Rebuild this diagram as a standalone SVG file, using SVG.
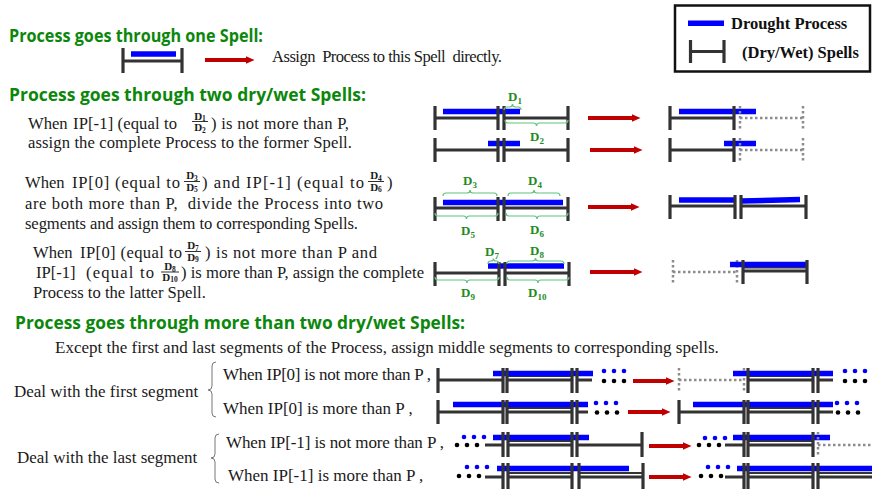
<svg xmlns="http://www.w3.org/2000/svg" width="872" height="492" viewBox="0 0 872 492">
<defs>
  <marker id="ah" markerUnits="userSpaceOnUse" markerWidth="10" markerHeight="10" refX="0.5" refY="4" orient="auto">
    <path d="M0,0 L9,4 L0,8 Z" fill="#c00000"/>
  </marker>
</defs>
<style>
  .h{font-family:"Open Sans","Noto Sans",sans-serif;font-weight:bold;font-size:17px;fill:#0b870b}
  .t{font-family:"Liberation Serif","Times New Roman",serif;font-size:16.6px;fill:#1a1a1a}
  .t3{font-family:"Liberation Serif","Times New Roman",serif;font-size:17px;fill:#1a1a1a}
  .lg{font-family:"Liberation Serif","Times New Roman",serif;font-weight:bold;font-size:16.5px;fill:#111}
  .ln{stroke:#333;stroke-width:3;fill:none}
  .ln2{stroke:#333;stroke-width:2;fill:none}
  .tk{stroke:#333;stroke-width:3.2}
  .pr{stroke:#0000ff;stroke-width:5.5}
  .ar{stroke:#c00000;stroke-width:4;marker-end:url(#ah)}
  .dt{stroke:#8c8c8c;stroke-width:2.5;stroke-dasharray:2.5 2.5;fill:none}
  .br{stroke:#5cc47a;stroke-width:1.2;fill:none}
  .cb{stroke:#777;stroke-width:1;fill:none}
  .lb{font-family:"Liberation Serif","Times New Roman",serif;font-weight:bold;font-size:13px;fill:#1e8c1e}
  .sb{font-size:9px}
  .fr{font-family:"Liberation Serif","Times New Roman",serif;font-weight:bold;font-size:11px;fill:#1a1a1a;text-anchor:middle}
  .fs{font-size:7.5px}
  .fl{stroke:#1a1a1a;stroke-width:0.9}
  .bd{fill:#0000ff}
  .kd{fill:#000}
</style>
<rect width="872" height="492" fill="#fff"/>

<!-- legend -->
<g id="legend">
  <rect x="675" y="5.5" width="195" height="66" fill="none" stroke="#111" stroke-width="2.5"/>
  <line class="pr" x1="688" y1="23.3" x2="724" y2="23.3"/>
  <text class="lg" x="731" y="28.5">Drought Process</text>
  <line class="ln" x1="690.5" y1="51.5" x2="724" y2="51.5"/>
  <line class="tk" x1="690.5" y1="40" x2="690.5" y2="63"/>
  <line class="tk" x1="724" y1="40" x2="724" y2="63"/>
  <text class="lg" x="742" y="58">(Dry/Wet) Spells</text>
</g>

<!-- case: one spell -->
<g id="one-spell">
  <text class="h" x="9" y="42" textLength="254" lengthAdjust="spacingAndGlyphs">Process goes through one Spell:</text>
  <line class="ln" x1="123" y1="61" x2="182" y2="61"/>
  <line class="pr" x1="131" y1="54" x2="176" y2="54"/>
  <line class="tk" x1="123" y1="48" x2="123" y2="73"/>
  <line class="tk" x1="182" y1="48" x2="182" y2="73"/>
  <line class="ar" x1="205" y1="60" x2="246" y2="60"/>
  <text class="t" x="272" y="62" font-size="15.5" textLength="230">Assign&#160; Process to this Spell&#160; directly.</text>
</g>

<!-- case: two spells -->
<g id="two-spells">
  <text class="h" x="9" y="101" textLength="357" lengthAdjust="spacingAndGlyphs">Process goes through two dry/wet Spells:</text>

  <!-- rule 1 text -->
  <text class="t" x="28" y="129">When</text>
  <text class="t" x="73" y="129" textLength="104">IP[-1] (equal to</text>
  <text class="fr" x="200" y="119.5">D<tspan class="fs" dy="1.5">1</tspan></text>
  <line class="fl" x1="192" y1="121.5" x2="208" y2="121.5"/>
  <text class="fr" x="200" y="131">D<tspan class="fs" dy="1.5">2</tspan></text>
  <text class="t" x="211" y="129" textLength="138">) is not more than P,</text>
  <text class="t" x="28" y="148" textLength="324">assign the complete Process to the former Spell.</text>

  <!-- rule 2 text -->
  <text class="t" x="25" y="188">When</text>
  <text class="t" x="72" y="188" textLength="108">IP[0] (equal to</text>
  <text class="fr" x="192" y="179">D<tspan class="fs" dy="1.5">3</tspan></text>
  <line class="fl" x1="184" y1="181.5" x2="200" y2="181.5"/>
  <text class="fr" x="192" y="190.5">D<tspan class="fs" dy="1.5">5</tspan></text>
  <text class="t" x="202" y="188" textLength="162">) and IP[-1] (equal to</text>
  <text class="fr" x="376" y="179">D<tspan class="fs" dy="1.5">4</tspan></text>
  <line class="fl" x1="368" y1="181.5" x2="384" y2="181.5"/>
  <text class="fr" x="376" y="190.5">D<tspan class="fs" dy="1.5">6</tspan></text>
  <text class="t" x="387" y="188">)</text>
  <text class="t" x="25" y="209" textLength="358">are both more than P,&#160; divide the Process into two</text>
  <text class="t" x="25" y="229" textLength="333">segments and assign them to corresponding Spells.</text>

  <!-- rule 3 text -->
  <text class="t" x="33" y="258">When</text>
  <text class="t" x="80" y="258" textLength="102">IP[0] (equal to</text>
  <text class="fr" x="193" y="249">D<tspan class="fs" dy="1.5">7</tspan></text>
  <line class="fl" x1="185" y1="251.5" x2="201" y2="251.5"/>
  <text class="fr" x="193" y="260.5">D<tspan class="fs" dy="1.5">9</tspan></text>
  <text class="t" x="205" y="258" textLength="172">) is not more than P and</text>
  <text class="t" x="36" y="278">IP[-1]</text>
  <text class="t" x="86" y="278" textLength="68">(equal to</text>
  <text class="fr" x="170" y="270" font-size="10">D<tspan class="fs" dy="1.5">8</tspan></text>
  <line class="fl" x1="161" y1="272" x2="179" y2="272"/>
  <text class="fr" x="170" y="280.5" font-size="10">D<tspan class="fs" dy="1">10</tspan></text>
  <text class="t" x="181" y="278" textLength="243">) is more than P, assign the complete</text>
  <text class="t" x="33" y="298">Process to the latter Spell.</text>
</g>

<!-- two-spell diagrams -->
<g id="case-former">
  <line class="ln" x1="435" y1="118" x2="498" y2="118"/>
  <line class="ln" x1="504" y1="118" x2="568" y2="118"/>
  <line class="pr" x1="443" y1="111.5" x2="520" y2="111.5"/>
  <line class="tk" x1="435" y1="106" x2="435" y2="130"/>
  <line class="tk" x1="498" y1="106" x2="498" y2="130"/>
  <line class="tk" x1="504" y1="106" x2="504" y2="130"/>
  <line class="tk" x1="568" y1="106" x2="568" y2="130"/>
  <path class="br" d="M504,110 Q504,107 507,107 L509.5,107 Q512.5,107 512.5,104 Q512.5,107 515.5,107 L518,107 Q521,107 521,110"/>
  <text class="lb" x="508" y="101">D<tspan class="sb" dy="3">1</tspan></text>
  <path class="br" d="M505,120 Q505,123 508,123 L533.5,123 Q536.5,123 536.5,126 Q536.5,123 539.5,123 L565,123 Q568,123 568,120"/>
  <text class="lb" x="530" y="141">D<tspan class="sb" dy="3">2</tspan></text>

  <line class="ln" x1="435" y1="150" x2="498" y2="150"/>
  <line class="ln" x1="504" y1="150" x2="568" y2="150"/>
  <line class="pr" x1="488" y1="143.5" x2="520" y2="143.5"/>
  <line class="tk" x1="435" y1="138" x2="435" y2="162"/>
  <line class="tk" x1="498" y1="138" x2="498" y2="162"/>
  <line class="tk" x1="504" y1="138" x2="504" y2="162"/>
  <line class="tk" x1="568" y1="138" x2="568" y2="162"/>

  <line class="ln" x1="670" y1="118" x2="734" y2="118"/>
  <line class="pr" x1="679" y1="111.5" x2="756" y2="111.5"/>
  <line class="tk" x1="670" y1="106" x2="670" y2="130"/>
  <line class="tk" x1="734" y1="106" x2="734" y2="130"/>
  <path class="dt" d="M740,106 V130 M740,118 H803 M803,106 V130"/>

  <line class="ln" x1="670" y1="150" x2="734" y2="150"/>
  <line class="pr" x1="724" y1="143.5" x2="756" y2="143.5"/>
  <line class="tk" x1="670" y1="138" x2="670" y2="162"/>
  <line class="tk" x1="734" y1="138" x2="734" y2="162"/>
  <path class="dt" d="M740,138 V162 M740,150 H803 M803,138 V162"/>
</g>

<g id="case-split">
  <line class="ln" x1="435" y1="208" x2="498" y2="208"/>
  <line class="ln" x1="504" y1="208" x2="568" y2="208"/>
  <line class="pr" x1="443" y1="202.5" x2="563" y2="202.5"/>
  <line class="tk" x1="435" y1="197" x2="435" y2="221"/>
  <line class="tk" x1="498" y1="197" x2="498" y2="221"/>
  <line class="tk" x1="504" y1="197" x2="504" y2="221"/>
  <line class="tk" x1="568" y1="197" x2="568" y2="221"/>
  <path class="br" d="M443,196 Q443,193 446,193 L467,193 Q470,193 470,190 Q470,193 473,193 L494,193 Q497,193 497,196"/>
  <text class="lb" x="463" y="185">D<tspan class="sb" dy="3">3</tspan></text>
  <path class="br" d="M508,196 Q508,193 511,193 L531,193 Q534,193 534,190 Q534,193 537,193 L557,193 Q560,193 560,196"/>
  <text class="lb" x="528" y="185">D<tspan class="sb" dy="3">4</tspan></text>
  <path class="br" d="M435,213 Q435,216 438,216 L463.5,216 Q466.5,216 466.5,219 Q466.5,216 469.5,216 L495,216 Q498,216 498,213"/>
  <text class="lb" x="461" y="235">D<tspan class="sb" dy="3">5</tspan></text>
  <path class="br" d="M506,213 Q506,216 509,216 L534,216 Q537,216 537,219 Q537,216 540,216 L565,216 Q568,216 568,213"/>
  <text class="lb" x="530" y="234">D<tspan class="sb" dy="3">6</tspan></text>

  <line class="ln" x1="670" y1="206" x2="735" y2="206"/>
  <line class="ln" x1="741" y1="206" x2="806" y2="206"/>
  <line class="pr" x1="679" y1="200" x2="734" y2="200"/>
  <line class="pr" x1="741" y1="201" x2="800" y2="199.5"/>
  <line class="tk" x1="670" y1="195" x2="670" y2="219"/>
  <line class="tk" x1="735" y1="195" x2="735" y2="219"/>
  <line class="tk" x1="741" y1="195" x2="741" y2="219"/>
  <line class="tk" x1="806" y1="195" x2="806" y2="219"/>
</g>

<g id="case-latter">
  <line class="ln" x1="435" y1="273" x2="499" y2="273"/>
  <line class="ln" x1="505" y1="273" x2="569" y2="273"/>
  <line class="pr" x1="488" y1="266" x2="564" y2="266"/>
  <line class="tk" x1="435" y1="262" x2="435" y2="286"/>
  <line class="tk" x1="499" y1="262" x2="499" y2="286"/>
  <line class="tk" x1="505" y1="262" x2="505" y2="286"/>
  <line class="tk" x1="569" y1="262" x2="569" y2="286"/>
  <path class="br" d="M488,264 Q488,261 490.5,261 L491,261 Q493.5,261 493.5,258.5 Q493.5,261 496,261 L496.5,261 Q499,261 499,264"/>
  <text class="lb" x="485" y="256">D<tspan class="sb" dy="3">7</tspan></text>
  <path class="br" d="M507,264 Q507,261 510,261 L532.5,261 Q535.5,261 535.5,258 Q535.5,261 538.5,261 L561,261 Q564,261 564,264"/>
  <text class="lb" x="530" y="255">D<tspan class="sb" dy="3">8</tspan></text>
  <path class="br" d="M435,277 Q435,280 438,280 L464,280 Q467,280 467,283 Q467,280 470,280 L496,280 Q499,280 499,277"/>
  <text class="lb" x="461" y="297">D<tspan class="sb" dy="3">9</tspan></text>
  <path class="br" d="M507,277 Q507,280 510,280 L535,280 Q538,280 538,283 Q538,280 541,280 L566,280 Q569,280 569,277"/>
  <text class="lb" x="528" y="297">D<tspan class="sb" dy="3">10</tspan></text>

  <path class="dt" d="M673,260 V284 M673,272 H737 M737,260 V284"/>
  <line class="ln" x1="743" y1="271" x2="807" y2="271"/>
  <line class="ln2" x1="743" y1="267.5" x2="807" y2="267.5"/>
  <line class="pr" x1="730" y1="264.5" x2="807" y2="264.5"/>
  <line class="tk" x1="743" y1="260" x2="743" y2="284"/>
  <line class="tk" x1="807" y1="260" x2="807" y2="284"/>
</g>

<!-- case: more than two spells -->
<g id="multi-spells">
  <text class="h" x="15" y="329" textLength="450" lengthAdjust="spacingAndGlyphs">Process goes through more than two dry/wet Spells:</text>
  <text class="t3" x="55" y="353">Except the first and last segments of the Process, assign middle segments to corresponding spells.</text>
  <text class="t3" x="14" y="397">Deal with the first segment</text>
  <path class="cb" d="M216,362 Q212,362 212,366 L212,386 Q212,390 208,390 Q212,390 212,394 L212,413 Q212,417 216,417"/>
  <text class="t3" x="223" y="380" textLength="208">When IP[0] is not more than P ,</text>
  <text class="t3" x="223" y="414">When IP[0] is more than P ,</text>
  <text class="t3" x="17" y="463">Deal with the last segment</text>
  <path class="cb" d="M219,434 Q215,434 215,438 L215,454 Q215,458 211,458 Q215,458 215,462 L215,479 Q215,483 219,483"/>
  <text class="t3" x="226" y="448" textLength="218">When IP[-1] is not more than P ,</text>
  <text class="t3" x="228" y="481">When IP[-1] is more than P ,</text>
</g>

<g id="first-not-more">
  <line class="ln" x1="438" y1="380" x2="503" y2="380"/>
  <line class="ln" x1="507" y1="380" x2="572" y2="380"/>
  <line class="ln2" x1="507" y1="376" x2="572" y2="376"/>
  <line class="ln" x1="577" y1="380" x2="592" y2="380"/>
  <line class="pr" x1="493" y1="373.5" x2="593" y2="373.5"/>
  <line class="tk" x1="438" y1="368" x2="438" y2="393"/>
  <line class="tk" x1="503" y1="368" x2="503" y2="393"/>
  <line class="tk" x1="507" y1="368" x2="507" y2="393"/>
  <line class="tk" x1="572" y1="368" x2="572" y2="393"/>
  <line class="tk" x1="577" y1="368" x2="577" y2="393"/>
  <circle class="bd" cx="604" cy="371" r="2.3"/><circle class="bd" cx="614" cy="371" r="2.3"/><circle class="bd" cx="624" cy="371" r="2.3"/>
  <circle class="kd" cx="604" cy="381" r="2.3"/><circle class="kd" cx="614" cy="381" r="2.3"/><circle class="kd" cx="624" cy="381" r="2.3"/>

  <path class="dt" d="M679,368 V393 M679,380 H744 M744,368 V393"/>
  <line class="ln" x1="748" y1="380" x2="813" y2="380"/>
  <line class="ln2" x1="748" y1="376" x2="813" y2="376"/>
  <line class="ln" x1="818" y1="380" x2="833" y2="380"/>
  <line class="pr" x1="733" y1="373.5" x2="833" y2="373.5"/>
  <line class="tk" x1="748" y1="368" x2="748" y2="393"/>
  <line class="tk" x1="813" y1="368" x2="813" y2="393"/>
  <line class="tk" x1="818" y1="368" x2="818" y2="393"/>
  <circle class="bd" cx="845" cy="371" r="2.3"/><circle class="bd" cx="855" cy="371" r="2.3"/><circle class="bd" cx="865" cy="371" r="2.3"/>
  <circle class="kd" cx="845" cy="381" r="2.3"/><circle class="kd" cx="855" cy="381" r="2.3"/><circle class="kd" cx="865" cy="381" r="2.3"/>
</g>

<g id="first-more">
  <line class="ln" x1="438" y1="412" x2="503" y2="412"/>
  <line class="ln" x1="507" y1="412" x2="572" y2="412"/>
  <line class="ln2" x1="507" y1="408" x2="572" y2="408"/>
  <line class="ln" x1="577" y1="412" x2="588" y2="412"/>
  <line class="pr" x1="453" y1="404.5" x2="588" y2="404.5"/>
  <line class="tk" x1="438" y1="400" x2="438" y2="424"/>
  <line class="tk" x1="503" y1="400" x2="503" y2="424"/>
  <line class="tk" x1="507" y1="400" x2="507" y2="424"/>
  <line class="tk" x1="572" y1="400" x2="572" y2="424"/>
  <line class="tk" x1="577" y1="400" x2="577" y2="424"/>
  <circle class="bd" cx="596" cy="403" r="2.3"/><circle class="bd" cx="606" cy="403" r="2.3"/><circle class="bd" cx="616" cy="403" r="2.3"/>
  <circle class="kd" cx="597" cy="412.5" r="2.3"/><circle class="kd" cx="607" cy="412.5" r="2.3"/><circle class="kd" cx="617" cy="412.5" r="2.3"/>

  <line class="ln" x1="679" y1="412" x2="744" y2="412"/>
  <line class="ln" x1="748" y1="412" x2="813" y2="412"/>
  <line class="ln2" x1="748" y1="408" x2="813" y2="408"/>
  <line class="ln" x1="818" y1="412" x2="833" y2="412"/>
  <line class="pr" x1="693" y1="404.5" x2="833" y2="404.5"/>
  <line class="tk" x1="679" y1="400" x2="679" y2="424"/>
  <line class="tk" x1="744" y1="400" x2="744" y2="424"/>
  <line class="tk" x1="748" y1="400" x2="748" y2="424"/>
  <line class="tk" x1="813" y1="400" x2="813" y2="424"/>
  <line class="tk" x1="818" y1="400" x2="818" y2="424"/>
  <circle class="bd" cx="837" cy="403" r="2.3"/><circle class="bd" cx="847" cy="403" r="2.3"/><circle class="bd" cx="857" cy="403" r="2.3"/>
  <circle class="kd" cx="838" cy="412.5" r="2.3"/><circle class="kd" cx="848" cy="412.5" r="2.3"/><circle class="kd" cx="858" cy="412.5" r="2.3"/>
</g>

<g id="last-not-more">
  <circle class="bd" cx="464" cy="437" r="2.3"/><circle class="bd" cx="474" cy="437" r="2.3"/><circle class="bd" cx="484" cy="437" r="2.3"/>
  <circle class="kd" cx="457" cy="445" r="2.3"/><circle class="kd" cx="467" cy="445" r="2.3"/><circle class="kd" cx="477" cy="445" r="2.3"/>
  <line class="ln" x1="485" y1="445" x2="503" y2="445"/>
  <line class="ln" x1="508" y1="445" x2="572" y2="445"/>
  <line class="ln2" x1="508" y1="441" x2="572" y2="441"/>
  <line class="ln" x1="577" y1="445" x2="642" y2="445"/>
  <line class="pr" x1="493" y1="437.5" x2="589" y2="437.5"/>
  <line class="tk" x1="503" y1="432" x2="503" y2="457"/>
  <line class="tk" x1="508" y1="432" x2="508" y2="457"/>
  <line class="tk" x1="572" y1="432" x2="572" y2="457"/>
  <line class="tk" x1="577" y1="432" x2="577" y2="457"/>
  <line class="tk" x1="642" y1="432" x2="642" y2="457"/>

  <circle class="bd" cx="705" cy="438" r="2.3"/><circle class="bd" cx="715" cy="438" r="2.3"/><circle class="bd" cx="725" cy="438" r="2.3"/>
  <circle class="kd" cx="699" cy="445" r="2.3"/><circle class="kd" cx="709" cy="445" r="2.3"/><circle class="kd" cx="719" cy="445" r="2.3"/>
  <line class="ln" x1="725" y1="445" x2="744" y2="445"/>
  <line class="ln" x1="748" y1="445" x2="813" y2="445"/>
  <line class="ln2" x1="748" y1="441" x2="813" y2="441"/>
  <line class="pr" x1="733" y1="437.5" x2="830" y2="437.5"/>
  <line class="tk" x1="744" y1="432" x2="744" y2="457"/>
  <line class="tk" x1="748" y1="432" x2="748" y2="457"/>
  <line class="tk" x1="813" y1="432" x2="813" y2="457"/>
  <path class="dt" d="M818,432 V457 M818,445 H872"/>
</g>

<g id="last-more">
  <circle class="bd" cx="467" cy="467" r="2.3"/><circle class="bd" cx="477" cy="467" r="2.3"/><circle class="bd" cx="487" cy="467" r="2.3"/>
  <circle class="kd" cx="459" cy="476" r="2.3"/><circle class="kd" cx="469" cy="476" r="2.3"/><circle class="kd" cx="479" cy="476" r="2.3"/>
  <line class="ln" x1="485" y1="477" x2="503" y2="477"/>
  <line class="ln" x1="508" y1="477" x2="572" y2="477"/>
  <line class="ln2" x1="508" y1="473" x2="572" y2="473"/>
  <line class="ln" x1="579" y1="477" x2="643" y2="477"/>
  <line class="ln2" x1="579" y1="473" x2="643" y2="473"/>
  <line class="pr" x1="497" y1="468.5" x2="629" y2="468.5"/>
  <line class="tk" x1="503" y1="463" x2="503" y2="489"/>
  <line class="tk" x1="508" y1="463" x2="508" y2="489"/>
  <line class="tk" x1="572" y1="463" x2="572" y2="489"/>
  <line class="tk" x1="579" y1="463" x2="579" y2="489"/>
  <line class="tk" x1="643" y1="463" x2="643" y2="489"/>

  <circle class="bd" cx="708" cy="467" r="2.3"/><circle class="bd" cx="718" cy="467" r="2.3"/><circle class="bd" cx="728" cy="467" r="2.3"/>
  <circle class="kd" cx="701" cy="476" r="2.3"/><circle class="kd" cx="711" cy="476" r="2.3"/><circle class="kd" cx="721" cy="476" r="2.3"/>
  <line class="ln" x1="725" y1="477" x2="744" y2="477"/>
  <line class="ln" x1="748" y1="477" x2="813" y2="477"/>
  <line class="ln2" x1="748" y1="473" x2="813" y2="473"/>
  <line class="ln" x1="818" y1="477" x2="872" y2="477"/>
  <line class="ln2" x1="818" y1="473" x2="872" y2="473"/>
  <line class="pr" x1="737" y1="468.5" x2="872" y2="468.5"/>
  <line class="tk" x1="744" y1="463" x2="744" y2="489"/>
  <line class="tk" x1="748" y1="463" x2="748" y2="489"/>
  <line class="tk" x1="813" y1="463" x2="813" y2="489"/>
  <line class="tk" x1="818" y1="463" x2="818" y2="489"/>
</g>

<!-- connectors: assignment arrows -->
<g id="connectors">
  <line class="ar" x1="588" y1="118" x2="632" y2="118"/>
  <line class="ar" x1="590" y1="150" x2="634" y2="150"/>
  <line class="ar" x1="588" y1="207" x2="631" y2="207"/>
  <line class="ar" x1="590" y1="272" x2="634" y2="272"/>
  <line class="ar" x1="633" y1="381" x2="666" y2="381"/>
  <line class="ar" x1="628" y1="412" x2="662" y2="412"/>
  <line class="ar" x1="649" y1="446" x2="683" y2="446"/>
  <line class="ar" x1="649" y1="477" x2="683" y2="477"/>
</g>
</svg>
